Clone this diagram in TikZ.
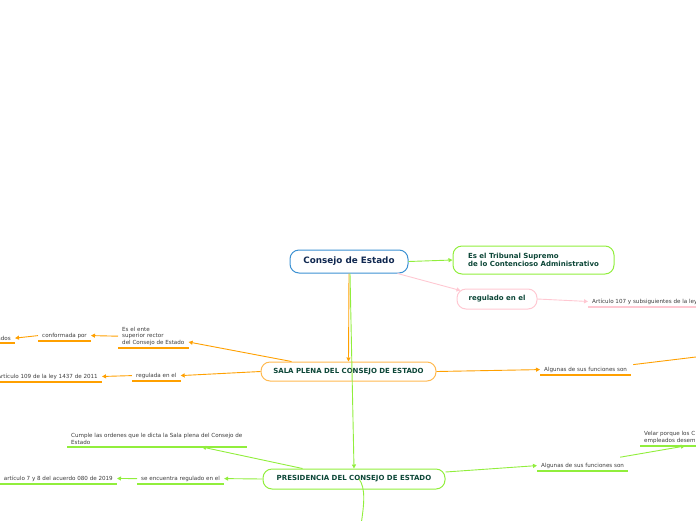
\documentclass[tikz,border=0pt]{standalone}
\usepackage{fontspec}
\setmainfont{DejaVu Sans}
\usetikzlibrary{arrows.meta}
\definecolor{cblue}{RGB}{60,145,210}
\definecolor{cnavy}{RGB}{16,40,80}
\definecolor{cgreen}{RGB}{145,238,60}
\definecolor{corange}{RGB}{255,160,0}
\definecolor{clorange}{RGB}{255,185,80}
\definecolor{cpink}{RGB}{255,200,210}
\definecolor{ctext}{RGB}{12,70,55}
\definecolor{cgray}{RGB}{60,60,60}
\tikzset{
  root/.style ={draw=cblue,line width=1pt,rounded corners=9pt,text=cnavy,font=\bfseries\fontsize{8.8}{10}\selectfont,minimum width=118pt,minimum height=23pt},
  topic/.style={line width=1pt,rounded corners=9pt,text=ctext,font=\bfseries\fontsize{7}{8.4}\selectfont,inner sep=0pt},
  leaf/.style ={text=cgray,font=\fontsize{5.6}{6.4}\selectfont,align=left,inner xsep=4pt,inner ysep=2.5pt},
  ar/.style={-{Triangle[length=4pt,width=4pt]},line width=0.9pt},
  ln/.style={line width=0.9pt},
  ul/.style={line width=1.6pt},
}
\begin{document}
\begin{tikzpicture}[x=1pt,y=-1pt]
  \useasboundingbox (0,0) rectangle (696,520);
  \clip (0,0) rectangle (696,520);
  % main nodes
  \node[root] (cons) at (349,261.5){Consejo de Estado};
  \node[topic,draw=cgreen,minimum width=161pt,minimum height=28pt,align=left] (trib) at (533.5,260){Es el Tribunal Supremo\\de lo Contencioso Administrativo};
  \node[topic,draw=cpink,minimum width=80pt,minimum height=20pt] (reg) at (497,299){regulado en el};
  \node[topic,draw=clorange,minimum width=175pt,minimum height=19pt] (sala) at (348.5,371.5){SALA PLENA DEL CONSEJO DE ESTADO};
  \node[topic,draw=cgreen,minimum width=182pt,minimum height=20pt] (pres) at (354,479){PRESIDENCIA DEL CONSEJO DE ESTADO};
  % leaves
  \node[leaf,anchor=south west] (art107) at (588,307){Artículo 107 y subsiguientes de la ley};
  \node[leaf,anchor=south west] (ente) at (118,348){Es el ente\\superior rector\\del Consejo de Estado};
  \node[leaf,anchor=south west] (conf) at (38,341){conformada por};
  \node[leaf,anchor=south east] (mag) at (15,343){ados};
  \node[leaf,anchor=south west] (regsala) at (132,381){regulada en el};
  \node[leaf,anchor=south east] (art109) at (102,382){Artículo 109 de la ley 1437 de 2011};
  \node[leaf,anchor=south west] (funsala) at (540,375){Algunas de sus funciones son};
  \node[leaf,anchor=south west] (cumple) at (67,447){Cumple las ordenes que le dicta la Sala plena del Consejo de\\Estado};
  \node[leaf,anchor=south west] (regpres) at (137,484){se encuentra regulado en el};
  \node[leaf,anchor=south east] (art7) at (117,484){artículo 7 y 8 del acuerdo 080 de 2019};
  \node[leaf,anchor=south west] (funpres) at (537,471){Algunas de sus funciones son};
  \node[leaf,anchor=south west] (velar) at (640,446){Velar porque los C\\empleados desemp};
  \coordinate (fsout) at (700,356.5);
  \coordinate (pdown) at (361,525);
  % underlines
  \draw[ul,cpink] (art107.south west) -- (art107.south east);
  \foreach \n in {ente,conf,mag,regsala,art109,funsala}
    \draw[ul,corange] (\n.south west) -- (\n.south east);
  \foreach \n in {cumple,regpres,art7,funpres,velar}
    \draw[ul,cgreen] (\n.south west) -- (\n.south east);
  % connectors
  \draw[ar,cgreen] (cons.east) -- (trib.west);
  \draw[ar,cpink] ([xshift=-11pt]cons.south east) -- ([xshift=4pt,yshift=-2pt]reg.north west);
  \draw[ar,cpink] (reg.east) -- (art107.west);
  \draw[ar,corange] (cons.south) -- (sala.north);
  \draw[ar,cgreen] ([xshift=1pt]cons.south) -- (pres.north);
  \draw[ar,corange] ([xshift=31pt]sala.north west) -- ([yshift=6pt]ente.south east);
  \draw[ar,corange] (ente.west) -- (conf.east);
  \draw[ar,corange] (conf.west) -- (mag.east);
  \draw[ar,corange] (sala.west) -- (regsala.east);
  \draw[ar,corange] (regsala.west) -- (art109.east);
  \draw[ar,corange] (sala.east) -- (funsala.west);
  \draw[ln,corange] ([xshift=2pt,yshift=5pt]funsala.east) -- (fsout);
  \draw[ar,cgreen] ([xshift=40pt]pres.north west) -- ([xshift=135pt]cumple.south west);
  \draw[ar,cgreen] (pres.west) -- (regpres.east);
  \draw[ar,cgreen] (regpres.west) -- (art7.east);
  \draw[ar,cgreen] ([yshift=7pt]pres.east) -- (funpres.west);
  \draw[ar,cgreen] ([xshift=-8pt,yshift=3pt]funpres.north east) -- ([xshift=45pt]velar.south west);
  \draw[ln,cgreen] ([xshift=5pt]pres.center) .. controls (366,488) and (364,505) .. (pdown);
\end{tikzpicture}
\end{document}
